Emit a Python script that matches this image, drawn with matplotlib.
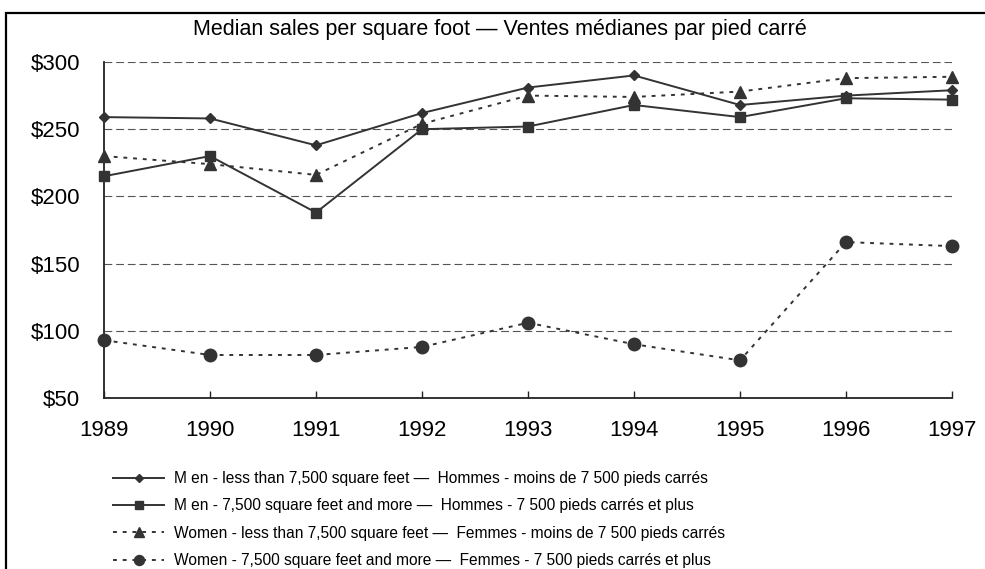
import matplotlib
matplotlib.use("Agg")
import matplotlib.pyplot as plt
from matplotlib.patches import Rectangle

plt.rcParams['font.family'] = ['Liberation Sans', 'DejaVu Sans']

years = [1989, 1990, 1991, 1992, 1993, 1994, 1995, 1996, 1997]
men_small = [259, 258, 238, 262, 281, 290, 268, 275, 279]
men_large = [215, 230, 188, 250, 252, 268, 259, 273, 272]
women_small = [230, 224, 216, 254, 275, 274, 278, 288, 289]
women_large = [93, 82, 82, 88, 106, 90, 78, 166, 163]

labels = [
    "M en - less than 7,500 square feet \u2014  Hommes - moins de 7 500 pieds carrés",
    "M en - 7,500 square feet and more \u2014  Hommes - 7 500 pieds carrés et plus",
    "Women - less than 7,500 square feet \u2014  Femmes - moins de 7 500 pieds carrés",
    "Women - 7,500 square feet and more \u2014  Femmes - 7 500 pieds carrés et plus",
]
yticks = [50, 100, 150, 200, 250, 300]

col = '#333333'
W, H = 985, 569
fig = plt.figure(figsize=(W / 100, H / 100), dpi=100)
ax = fig.add_axes([104 / W, 1 - 398 / H, (952 - 104) / W, (398 - 62) / H])

dots = (0, (2, 3))
series = [
    (men_small, '-', 'D', 5),
    (men_large, '-', 's', 6.5),
    (women_small, dots, '^', 9),
    (women_large, dots, 'o', 9),
]
for (vals, ls, mk, ms), lab in zip(series, labels):
    ax.plot(years, vals, linestyle=ls, marker=mk, markersize=ms, color=col,
            lw=1.4, label=lab, clip_on=False, zorder=3)

ax.set_xlim(1989, 1997)
ax.set_ylim(50, 300)
ax.set_xticks(years)
ax.set_yticks(yticks)
ax.set_yticklabels(['$%d' % v for v in yticks])
for v in yticks[1:]:
    ax.axhline(v, color='#555555', lw=0.8, dashes=(7, 3.5), zorder=1)

ax.spines['top'].set_visible(False)
ax.spines['right'].set_visible(False)
ax.spines['left'].set_color('#222222')
ax.spines['bottom'].set_color('#222222')
ax.spines['left'].set_linewidth(1.3)
ax.spines['bottom'].set_linewidth(1.3)
ax.tick_params(axis='x', direction='in', length=5, width=1, color='#222222',
               labelsize=16, pad=16)
ax.tick_params(axis='y', length=0, labelsize=16, pad=17)

fig.text(500 / W, 1 - 30 / H, "Median sales per square foot \u2014 Ventes médianes par pied carré",
         ha='center', va='center', fontsize=15.5)

handles, labs = ax.get_legend_handles_labels()
fig.legend(handles, labs, loc='upper left', bbox_to_anchor=(113 / W, 1 - 471 / H),
           frameon=False, borderpad=0, borderaxespad=0, handlelength=3.3,
           handletextpad=0.6, labelspacing=0.8, markerscale=0.8,
           prop={'size': 11.2})

# outer frame, running off the right and bottom edges
fig.patches.append(Rectangle((6 / W, -0.05), 1.2, 1 - 13 / H + 0.05,
                             transform=fig.transFigure, fill=False,
                             edgecolor='black', lw=1.6))

fig.savefig('out.png', dpi=100)
